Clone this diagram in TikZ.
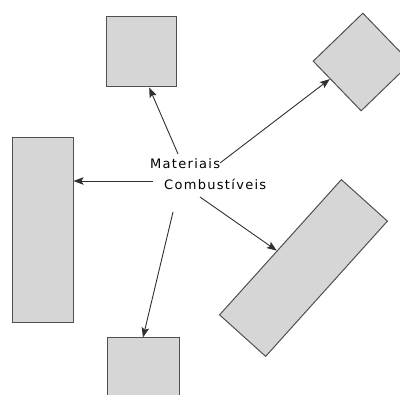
\documentclass[tikz,border=0pt]{standalone}
\usepackage{fontspec}
\usepackage{tikz}
\usetikzlibrary{arrows,arrows.meta}
\newfontfamily\labelfont[LetterSpace=10]{DejaVu Sans}
\definecolor{boxfill}{HTML}{D6D6D6}
\definecolor{boxline}{HTML}{505050}
\definecolor{arrline}{HTML}{303030}
\tikzset{%
    >={Stealth[length=10pt,width=7.5pt,inset=2pt]},
    block/.style={draw=boxline, fill=boxfill, line width=1pt, rectangle, inner sep=0pt},
    link/.style={->, draw=arrline, line width=0.9pt}
}

\begin{document}
\begin{tikzpicture}[x=1pt, y=-1pt]
      \useasboundingbox (0,0) rectangle (400,395);
      \clip (0,0) rectangle (400,395);

      \node[block, minimum width=70pt, minimum height=70pt] (upper) at (141,52) {};
      \node[block, minimum width=69pt, minimum height=69pt, rotate=44] (tilted) at (362,62) {};
      \node[block, minimum width=61pt, minimum height=185pt] (tall) at (42.5,230.5) {};
      \node[block, minimum width=72pt, minimum height=72pt] (lower) at (143,374) {};
      \node[block, minimum width=62pt, minimum height=182pt, rotate=-42] (slab) at (303.5,268) {};

      \node[anchor=base west, inner sep=0pt, align=left, font=\labelfont\fontsize{13}{21}\selectfont] (fuel) at (150,190) {Materiais\\\hspace*{14pt}Combustíveis};

      \coordinate (fromUpper) at (178,154);
      \coordinate (fromTilted) at (220,163);
      \coordinate (fromTall) at (153,181);
      \coordinate (fromSlab) at (200,197);
      \coordinate (fromLower) at (173,212);

      \draw[link] (fromUpper) -- (upper.-77.5);
      \draw[link] (fromTilted) -- (tilted.164.6);
      \draw[link] (fromTall) -- (fromTall -| tall.east);
      \draw[link] (fromSlab) -- (slab.189.7);
      \draw[link] (fromLower) -- (lower.north);
\end{tikzpicture}
\end{document}
